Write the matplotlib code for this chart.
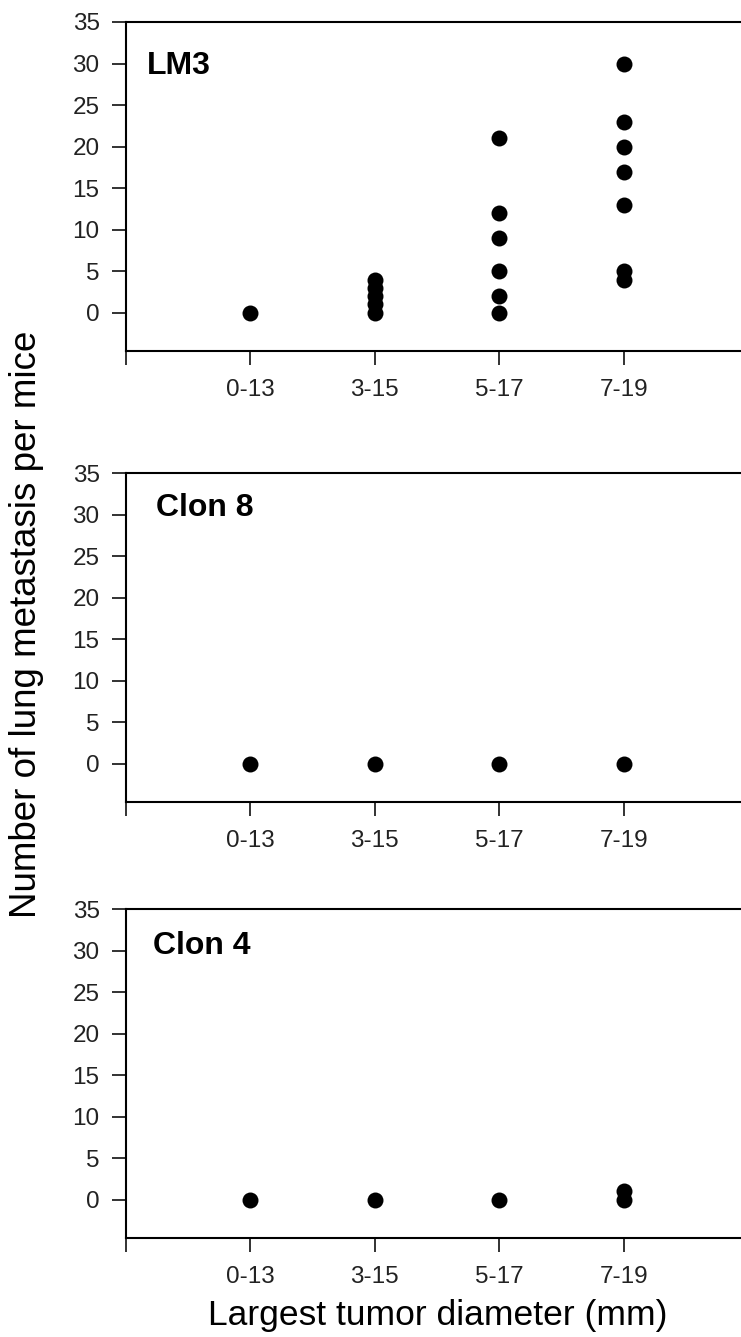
import matplotlib
matplotlib.use("Agg")
import matplotlib.pyplot as plt

# categories and per-mouse counts
categories = ["0-13", "3-15", "5-17", "7-19"]
panel_names = ["LM3", "Clon 8", "Clon 4"]
lm3 = [[0], [0, 1, 2, 3, 4], [0, 2, 5, 9, 12, 21], [4, 5, 13, 17, 20, 23, 30]]
clon8 = [[0], [0], [0], [0]]
clon4 = [[0], [0], [0], [0, 1]]
y_ticks = [0, 5, 10, 15, 20, 25, 30, 35]

font = ["Liberation Sans", "DejaVu Sans"]
W, H = 741, 1337
fig = plt.figure(figsize=(W / 100, H / 100), dpi=100)

tops = [22, 473, 909]          # pixel row of top spine
label_pos = [(0.034, 0.866), (0.048, 0.894), (0.044, 0.889)]

for k, (name, data) in enumerate(zip(panel_names, [lm3, clon8, clon4])):
    top = tops[k]
    ax = fig.add_axes([126 / W, 1 - (top + 329) / H, 622 / W, 329 / H])
    for i, vals in enumerate(data):
        ax.plot([i + 1] * len(vals), vals, "o", color="black", ms=11.5, mew=0)
    ax.set_xlim(0, 5)
    ax.set_ylim(-4.6, 35)
    ax.set_xticks([0, 1, 2, 3, 4])
    ax.set_xticklabels([""] + categories)
    ax.set_yticks(y_ticks)
    ax.set_yticklabels([str(v) for v in y_ticks])
    for s in ["left", "top", "bottom"]:
        ax.spines[s].set_linewidth(1.5)
    ax.spines["right"].set_visible(False)
    ax.tick_params(direction="out", length=10, width=1.3, colors="#222222",
                   labelsize=17.5)
    ax.tick_params(axis="y", pad=9)
    ax.tick_params(axis="x", pad=10)
    for lab in ax.get_xticklabels() + ax.get_yticklabels():
        lab.set_family(font)
    ax.text(label_pos[k][0], label_pos[k][1], name, transform=ax.transAxes,
            fontsize=23, fontweight="bold", family=font, va="center", ha="left")

fig.text(0.036, 0.533, "Number of lung metastasis per mice", rotation=90,
         ha="center", va="center", fontsize=26.5, family=font)
fig.text(0.591, 0.016, "Largest tumor diameter (mm)", ha="center", va="center",
         fontsize=25.5, family=font)

fig.savefig("out.png", dpi=100)
